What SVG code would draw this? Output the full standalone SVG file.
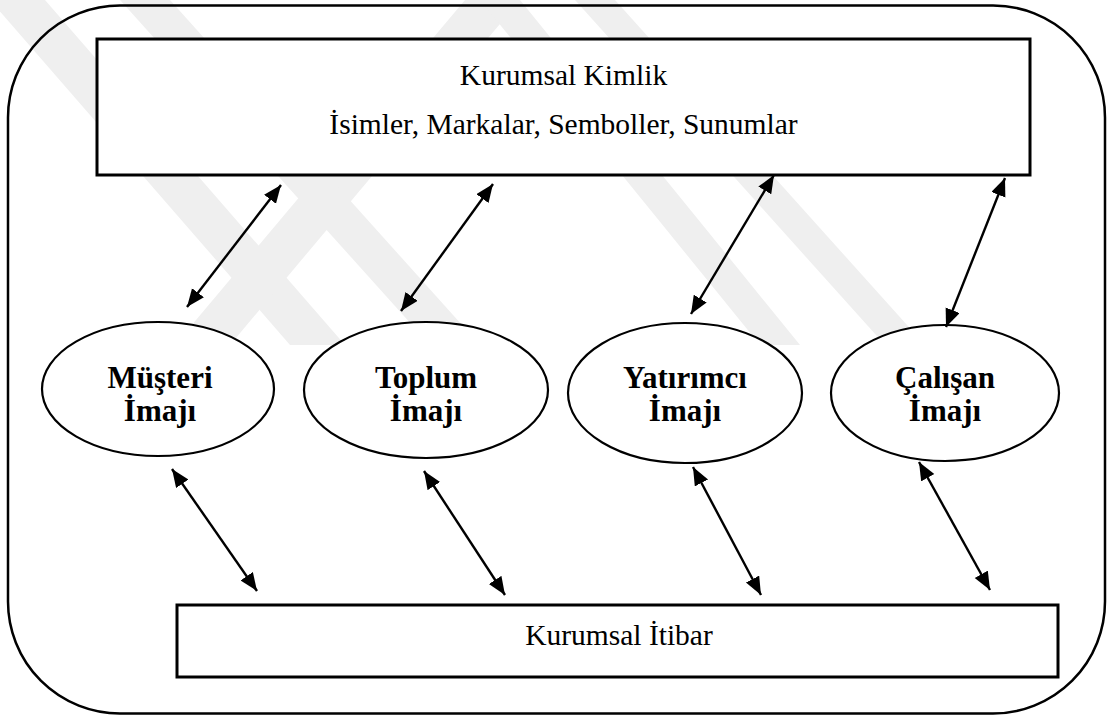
<svg xmlns="http://www.w3.org/2000/svg" width="1111" height="719" viewBox="0 0 1111 719">
  <style>
    .frame { fill: none; stroke: #000; stroke-width: 2.5; }
    .box { fill: #fff; stroke: #000; stroke-width: 3; }
    .oval { fill: #fff; stroke: #000; stroke-width: 2.2; }
    .txt { font-family: "Liberation Serif", "Times New Roman", serif; font-size: 29.5px; fill: #000; text-anchor: middle; }
    .bold { font-family: "Liberation Serif", "Times New Roman", serif; font-size: 31px; font-weight: bold; fill: #000; text-anchor: middle; }
    .link { stroke: #000; stroke-width: 2.4; fill: none; marker-start: url(#head); marker-end: url(#head); }
    .wm { fill: #efefef; }
  </style>
  <defs>
    <marker id="head" markerUnits="userSpaceOnUse" markerWidth="20" markerHeight="16" refX="18" refY="7.5" orient="auto-start-reverse">
      <path d="M0,0 L18,7.5 L0,15 Z" fill="#000"/>
    </marker>
  </defs>

  <rect width="1111" height="719" fill="#fff"/>

  <!-- faint background emblem -->
  <g id="emblem">
    <polygon class="wm" points="-10,0 45,0 345,345 290,345"/>
    <polygon class="wm" points="175,345 230,345 520,0 465,0"/>
    <polygon class="wm" points="120,0 170,0 480,345 430,345"/>
    <polygon class="wm" points="575,0 615,0 925,345 885,345"/>
    <polygon class="wm" points="480,0 520,0 800,345 760,345"/>
  </g>

  <!-- outer frame -->
  <rect id="frame" class="frame" x="8" y="5.5" width="1097" height="708" rx="112" ry="112"/>

  <g id="kurumsal-kimlik">
    <rect class="box" x="97" y="39" width="933" height="136"/>
    <text class="txt" x="563.5" y="85">Kurumsal Kimlik</text>
    <text class="txt" x="563.5" y="134">İsimler, Markalar, Semboller, Sunumlar</text>
  </g>

  <g id="musteri-imaji">
    <ellipse class="oval" cx="158" cy="389" rx="116" ry="67"/>
    <text class="bold" x="160" y="388">Müşteri</text>
    <text class="bold" x="160" y="421">İmajı</text>
  </g>

  <g id="toplum-imaji">
    <ellipse class="oval" cx="426" cy="390" rx="122" ry="68"/>
    <text class="bold" x="426" y="388">Toplum</text>
    <text class="bold" x="426" y="421">İmajı</text>
  </g>

  <g id="yatirimci-imaji">
    <ellipse class="oval" cx="685" cy="393" rx="117" ry="70"/>
    <text class="bold" x="685" y="388">Yatırımcı</text>
    <text class="bold" x="685" y="421">İmajı</text>
  </g>

  <g id="calisan-imaji">
    <ellipse class="oval" cx="945" cy="393" rx="114" ry="68"/>
    <text class="bold" x="945" y="388">Çalışan</text>
    <text class="bold" x="945" y="421">İmajı</text>
  </g>

  <g id="kurumsal-itibar">
    <rect class="box" x="177" y="605" width="881" height="72"/>
    <text class="txt" x="619" y="645">Kurumsal İtibar</text>
  </g>

  <g id="connectors">
    <line class="link" x1="281" y1="185" x2="187" y2="307"/>
    <line class="link" x1="493" y1="184" x2="401" y2="311"/>
    <line class="link" x1="774" y1="175" x2="691" y2="314"/>
    <line class="link" x1="1005" y1="178" x2="946" y2="327"/>
    <line class="link" x1="172" y1="469" x2="257" y2="591"/>
    <line class="link" x1="424" y1="471" x2="505" y2="595"/>
    <line class="link" x1="693" y1="467" x2="761" y2="595"/>
    <line class="link" x1="919" y1="462" x2="990" y2="590"/>
  </g>
</svg>
